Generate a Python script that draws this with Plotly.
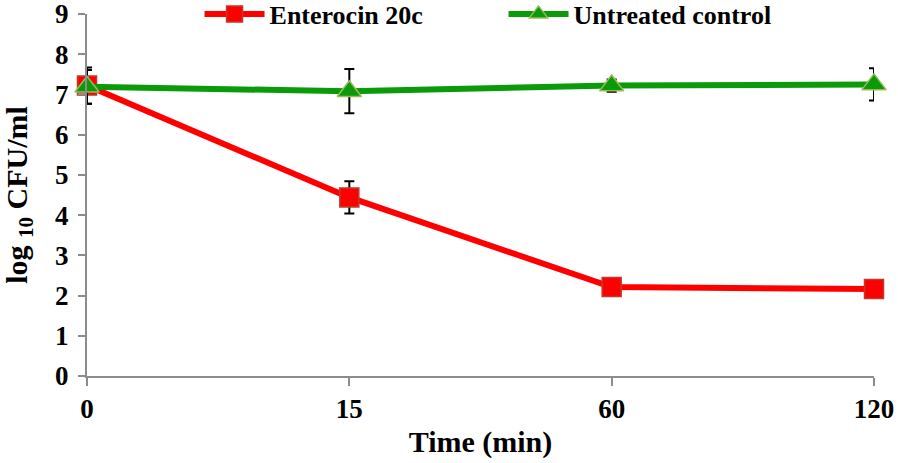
import plotly.graph_objects as go

time_labels = ["0", "15", "60", "120"]
enterocin = [7.22, 4.44, 2.21, 2.16]
enterocin_err = [0.45, 0.4, 0.1, 0.1]
control = [7.19, 7.08, 7.22, 7.25]
control_err = [0.42, 0.55, 0.15, 0.4]
y_ticks = [0, 1, 2, 3, 4, 5, 6, 7, 8, 9]

FONT = "Liberation Serif, Times New Roman, serif"

fig = go.Figure()
fig.add_trace(go.Scatter(
    x=time_labels, y=enterocin, name="<b>Enterocin 20c</b>",
    mode="lines+markers",
    line=dict(color="#ff0000", width=6),
    marker=dict(symbol="square", size=19, color="#ff0000",
                line=dict(color="#c0392b", width=1.5)),
    error_y=dict(type="data", array=enterocin_err, color="black",
                 thickness=2, width=5),
    cliponaxis=False,
))
fig.add_trace(go.Scatter(
    x=time_labels, y=control, name="<b>Untreated control</b>",
    mode="lines+markers",
    line=dict(color="#0a9a0a", width=6),
    marker=dict(symbol="triangle-up", size=21, color="#0a9a0a",
                line=dict(color="#9bbb59", width=1.5)),
    error_y=dict(type="data", array=control_err, color="black",
                 thickness=2, width=5),
    cliponaxis=False,
))

fig.update_layout(
    width=898, height=463,
    margin=dict(l=87, r=24, t=14, b=87, autoexpand=False),
    paper_bgcolor="white", plot_bgcolor="white",
    font=dict(family=FONT, color="black", size=26),
    showlegend=True,
    legend=dict(orientation="h", x=0.143, y=1.0, xanchor="left", yanchor="middle",
                font=dict(family=FONT, size=26, color="black"),
                bgcolor="rgba(255,255,255,0)", entrywidth=229, itemwidth=60,
                traceorder="normal"),
    xaxis=dict(
        type="category", range=[0, 3],
        showline=True, linecolor="#8c8c8c", linewidth=2,
        ticks="outside", ticklen=8, tickwidth=2, tickcolor="#8c8c8c",
        showgrid=False, zeroline=False,
        tickfont=dict(family=FONT, size=27, color="black"),
        tickprefix="<b>", ticksuffix="</b>",
        title=dict(text="<b>Time (min)</b>", font=dict(family=FONT, size=30), standoff=8),
    ),
    yaxis=dict(
        range=[0, 9.0001], tickmode="array", tickvals=y_ticks,
        ticktext=[f"<b>{v}</b>" for v in y_ticks],
        showline=True, linecolor="#8c8c8c", linewidth=2,
        ticks="outside", ticklen=7, tickwidth=2, tickcolor="#8c8c8c",
        showgrid=False, zeroline=False,
        ticklabelstandoff=4, ticklabeloverflow="allow",
        tickfont=dict(family=FONT, size=27, color="black"),
        title=dict(text="<b>log <sub>10</sub> CFU/ml</b>", font=dict(family=FONT, size=30), standoff=20),
    ),
)

fig.write_html("out.html", config={"displayModeBar": False},
               post_script="document.body.style.margin='0';document.body.style.padding='0';")
